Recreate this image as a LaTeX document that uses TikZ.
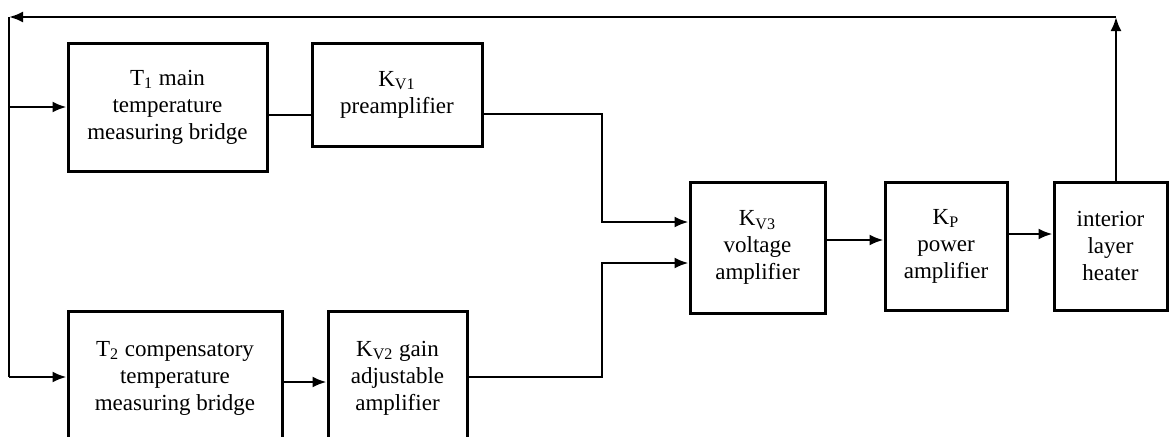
\documentclass[tikz,border=0pt]{standalone}
\usepackage{fontspec}
\setmainfont{Liberation Serif}
\usepackage{tikz}
\usetikzlibrary{arrows.meta, positioning, calc}
\tikzset{
  block/.style={rectangle, draw=black, fill=white, align=center,
    inner sep=0pt, line width=1.5pt,
    font=\fontsize{11.5}{13.5}\selectfont},
  arrow/.style={-{Latex[length=7pt,width=5.5pt]}, line width=1.2pt, color=black},
  line/.style={line width=1.2pt, color=black}
}
\begin{document}
\begin{tikzpicture}[x=0.5pt, y=-0.5pt]
  \useasboundingbox (0,0) rectangle (1169,436);
  \clip (0,0) rectangle (1169,436);

  % blocks
  \node[block, minimum width=99.5pt, minimum height=64pt] (t1) at (167.5,107)
    {T\textsubscript{1} main\\temperature\\measuring bridge};
  \node[block, minimum width=85pt, minimum height=51.5pt] (kv1) at (397,94.5)
    {K\textsubscript{V1}\\preamplifier};
  \node[block, minimum width=107pt, minimum height=67pt] (t2) at (175,378)
    {T\textsubscript{2} compensatory\\temperature\\measuring bridge};
  \node[block, minimum width=69.5pt, minimum height=67pt] (kv2) at (397.5,378)
    {K\textsubscript{V2} gain\\adjustable\\amplifier};
  \node[block, minimum width=67.5pt, minimum height=65.5pt] (kv3) at (757.5,247.5)
    {K\textsubscript{V3}\\voltage\\amplifier};
  \node[block, minimum width=61pt, minimum height=64pt] (kp) at (946,246)
    {K\textsubscript{P}\\power\\amplifier};
  \node[block, minimum width=56.5pt, minimum height=64pt] (heater) at (1110.5,246)
    {interior\\layer\\heater};

  % junction points
  \coordinate (fbr) at (1116,17);
  \coordinate (fbl) at (9,17);
  \coordinate (in1) at (9,107);
  \coordinate (in2) at (9,377);
  \coordinate (m1) at (602,114);
  \coordinate (m2) at (602,377);

  % forward paths
  \draw[line] (t1.east |- 0,115) -- (kv1.west |- 0,115);
  \draw[arrow] (kv1.east |- m1) -- (m1) |- (kv3.west |- 0,222);
  \draw[arrow] (kv2.east |- m2) -- (m2) |- (kv3.west |- 0,263);
  \draw[arrow] (t2.east |- 0,382) -- (kv2.west |- 0,382);
  \draw[arrow] (kv3.east |- 0,240) -- (kp.west |- 0,240);
  \draw[arrow] (kp.east |- 0,234) -- (heater.west |- 0,234);

  % feedback loop
  \draw[arrow] (heater.north -| fbr) -- (fbr);
  \draw[arrow] (fbr) -- (fbl);
  \draw[line] (fbl) -- (in2);
  \draw[arrow] (in1) -- (t1.west |- in1);
  \draw[arrow] (in2) -- (t2.west |- in2);
\end{tikzpicture}
\end{document}
